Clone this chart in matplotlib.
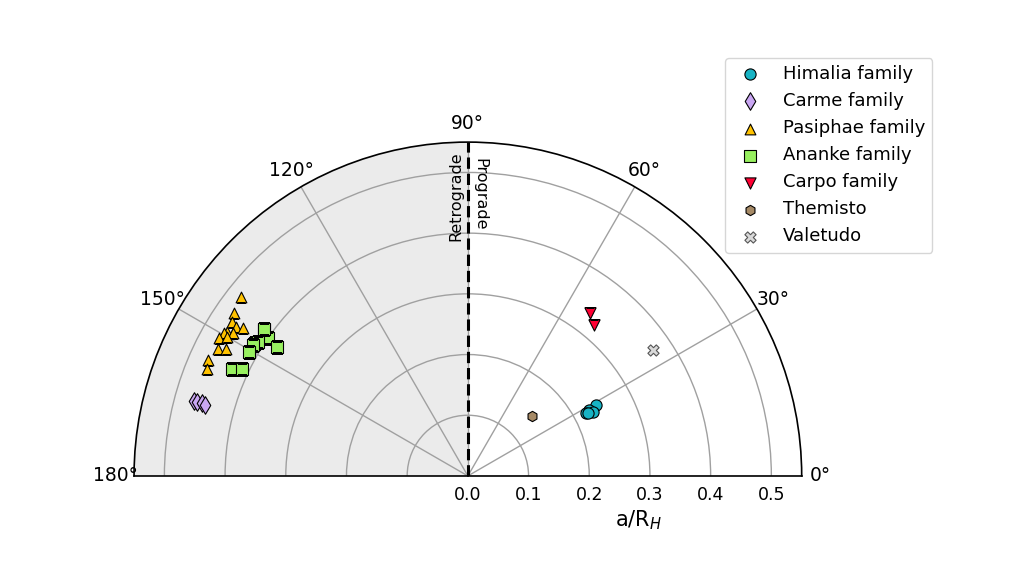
import numpy as np
import matplotlib.pyplot as plt

# inclination (deg) and semi-major axis (a/R_H)
himalia_inc = [28.9, 28.5, 28.2, 27.2, 27.5]
himalia_a = [0.242, 0.227, 0.220, 0.232, 0.223]

carme_inc = [164.7, 164.7, 164.7, 164.9]
carme_a = [0.467, 0.463, 0.454, 0.448]

pasiphae_inc = [141.7, 145.1, 146.9, 147.2, 146.6, 149.1, 149.7, 148.7,
                151.0, 150.1, 153.1, 152.2, 156.0, 157.8]
pasiphae_a = [0.476, 0.469, 0.464, 0.454, 0.444, 0.462, 0.466, 0.452,
              0.468, 0.458, 0.461, 0.450, 0.469, 0.465]

ananke_inc = [144.4, 145.4, 145.9, 148.1, 147.4, 148.7, 150.5, 155.6, 154.7, 144.2]
ananke_a = [0.413, 0.401, 0.380, 0.413, 0.410, 0.414, 0.415, 0.427, 0.412, 0.415]

carpo_inc = [53.1, 50.1]
carpo_a = [0.336, 0.324]

themisto_inc = [43.2]
themisto_a = [0.145]

valetudo_inc = [34.2]
valetudo_a = [0.369]

fig = plt.figure(figsize=(10.24, 5.77), dpi=100)
# square box, the half disc is centred vertically inside it
ax = fig.add_axes([0.1309, -0.1144, 0.652, 1.1577], projection='polar')
ax.set_thetamin(0)
ax.set_thetamax(180)
ax.set_rlim(0, 0.55)

# retrograde half shaded
th = np.linspace(np.pi / 2, np.pi, 200)
ax.fill_between(th, 0, 0.55, color='#ebebeb', zorder=0)
ax.plot([np.pi / 2, np.pi / 2], [0, 0.55], color='k', ls='--', lw=2.2, zorder=3)

ax.set_thetagrids([0, 30, 60, 90, 120, 150, 180])
ax.set_yticks([0.0, 0.1, 0.2, 0.3, 0.4, 0.5])
ax.grid(color='#a0a0a0', lw=1)
ax.tick_params(axis='y', labelsize=12.5)
ax.tick_params(axis='x', labelsize=13.5, pad=3)
for sp in ax.spines.values():
    sp.set_linewidth(1.2)

def sc(inc, a, **kw):
    ax.scatter(np.radians(inc), a, edgecolors='k', linewidths=0.8, zorder=4, **kw)

sc(himalia_inc, himalia_a, marker='o', s=65, c='#17b3c4', label='Himalia family')
sc(carme_inc, carme_a, marker='d', s=80, c='#c9a6f2', label='Carme family')
sc(pasiphae_inc, pasiphae_a, marker='^', s=60, c='#ffc200', label='Pasiphae family')
sc(ananke_inc, ananke_a, marker='s', s=85, c='#98f060', label='Ananke family')
sc(carpo_inc, carpo_a, marker='v', s=65, c='#ff0033', label='Carpo family')
sc(themisto_inc, themisto_a, marker='h', s=55, c='#a68a66', label='Themisto')
ax.scatter(np.radians(valetudo_inc), valetudo_a, marker='X', s=65, c='#d9d9d9',
           edgecolors='#555555', linewidths=0.8, zorder=4, label='Valetudo')

ax.text(np.radians(92.4), 0.462, 'Retrograde', rotation=90, ha='center', va='center', fontsize=11.5)
ax.text(np.radians(87.6), 0.465, 'Prograde', rotation=-90, ha='center', va='center', fontsize=11.5)

ax.set_xlabel('a/R$_H$', fontsize=15)
ax.xaxis.set_label_coords(638 / 1024, 1 - 508 / 577, transform=fig.transFigure)

fig.legend(loc='upper left', bbox_to_anchor=(0.708, 0.8995), fontsize=13, borderaxespad=0)

fig.savefig('out.png', dpi=100)
